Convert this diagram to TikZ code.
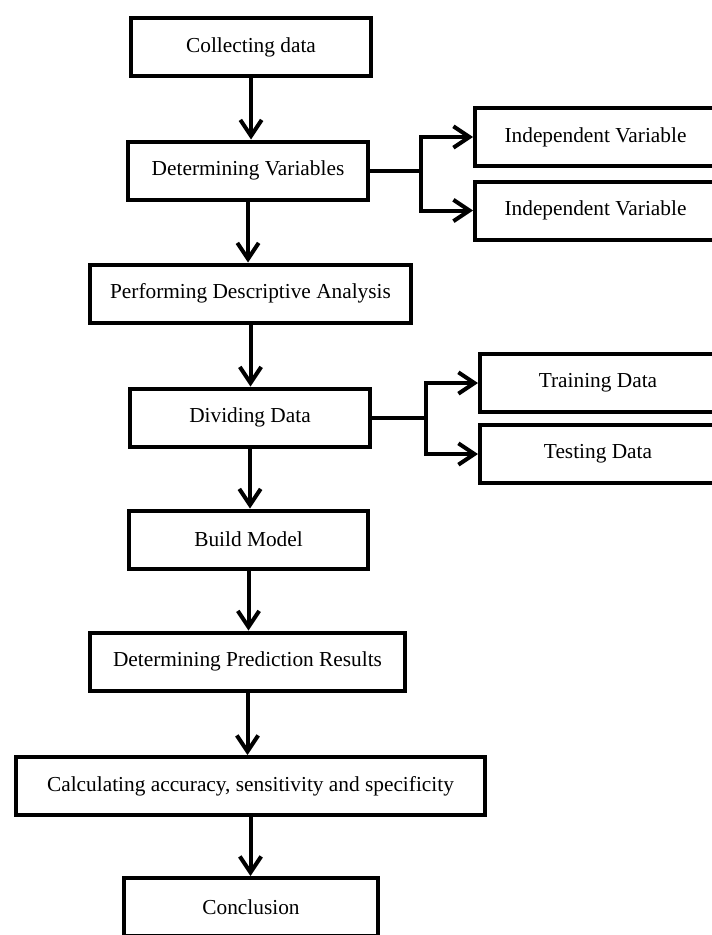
\documentclass[tikz,border=0pt]{standalone}
\usepackage{fontspec}
\setmainfont{Liberation Serif}
\usetikzlibrary{arrows.meta}

\begin{document}
\begin{tikzpicture}[x=0.75pt,y=-0.75pt,
    stepbox/.style={draw,line width=3pt,inner sep=0pt,minimum width=#1*0.75pt,
        minimum height=43.5pt,font=\fontsize{16}{19}\selectfont},
    flow/.style={line width=3pt,-{Straight Barb[length=12pt,width=16pt,line width=3pt]}}]
    \useasboundingbox (0,0) rectangle (712,935);
    % main column
    \node[stepbox=240] (collect) at (251,47) {Collecting data};
    \node[stepbox=240] (detvar) at (248,170.5) {Determining Variables};
    \node[stepbox=321] (descr) at (250.5,293.5) {Performing Descriptive Analysis};
    \node[stepbox=240] (divide) at (250,417.5) {Dividing Data};
    \node[stepbox=239] (build) at (248.5,539.5) {Build Model};
    \node[stepbox=315] (predict) at (247.5,661.5) {Determining Prediction Results};
    \node[stepbox=469] (calc) at (250.5,786) {Calculating accuracy, sensitivity and specificity};
    \node[stepbox=254] (concl) at (251,907) {Conclusion};
    % side boxes
    \node[stepbox=241] (indep1) at (595.5,137) {Independent Variable};
    \node[stepbox=241] (indep2) at (595.5,210.5) {Independent Variable};
    \node[stepbox=236] (train) at (598,383) {Training Data};
    \node[stepbox=236] (test) at (598,454) {Testing Data};
    % arrows down
    \foreach \a/\b in {collect/detvar,detvar/descr,descr/divide,divide/build,build/predict,predict/calc,calc/concl}
        \draw[flow] (\a.south) -- (\a.south |- \b.north);
    % forks
    \draw[line width=3pt] (detvar.east) -- ++(51,0) coordinate (dvfork);
    \draw[flow] (dvfork) |- (indep1.west);
    \draw[flow] (dvfork) |- (indep2.west);
    \draw[line width=3pt] (divide.east) -- ++(54,0) coordinate (ddfork);
    \draw[flow] (ddfork) |- (train.west);
    \draw[flow] (ddfork) |- (test.west);
\end{tikzpicture}
\end{document}
